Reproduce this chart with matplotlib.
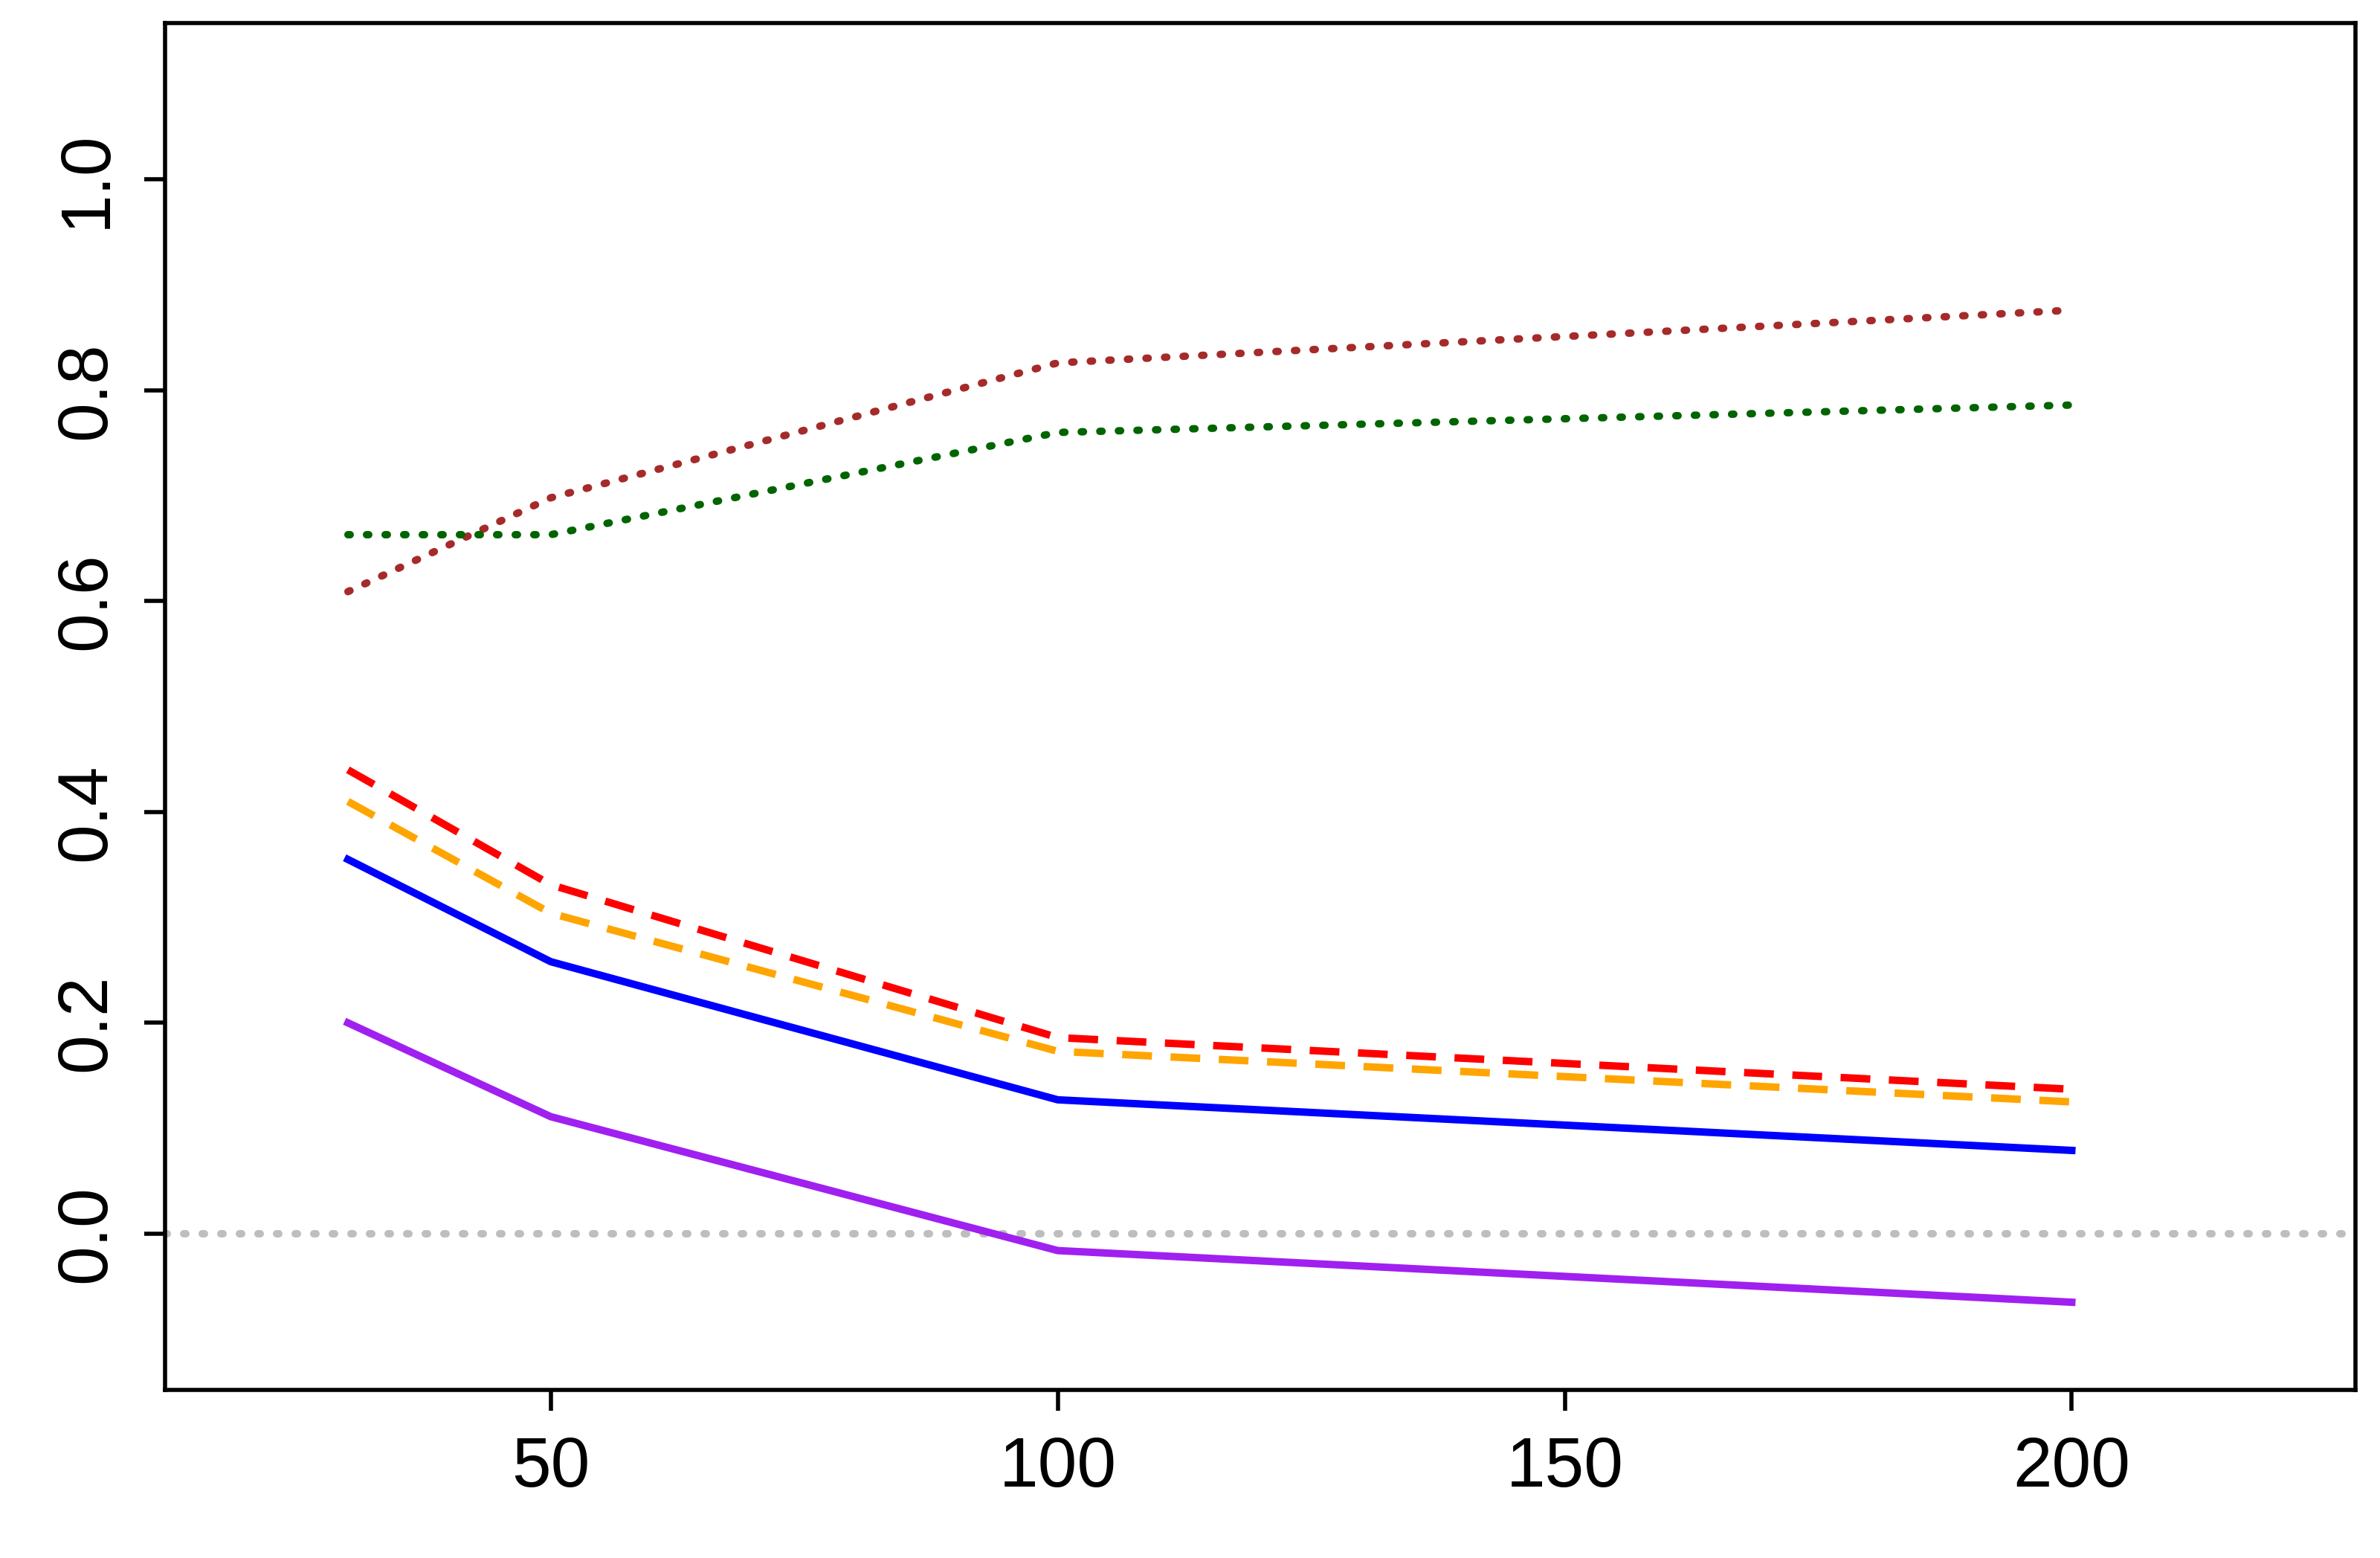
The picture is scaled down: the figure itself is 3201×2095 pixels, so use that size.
import matplotlib
matplotlib.use("Agg")
import matplotlib.pyplot as plt

plt.rcParams['font.family'] = ['Liberation Sans', 'DejaVu Sans']

x = [30, 50, 100, 200]
blue = [0.355, 0.258, 0.127, 0.079]
purple = [0.200, 0.111, -0.016, -0.065]
red = [0.440, 0.331, 0.186, 0.137]
orange = [0.410, 0.304, 0.173, 0.125]
brown = [0.609, 0.698, 0.826, 0.876]
green = [0.663, 0.663, 0.760, 0.786]
xticks = [50, 100, 150, 200]
yticks = [0.0, 0.2, 0.4, 0.6, 0.8, 1.0]

fig = plt.figure(figsize=(16.005, 10.475), dpi=200)
ax = fig.add_axes([0.0695, 0.108, 0.9203, 0.877])
lw = 3.6
ax.axhline(0, color='#BEBEBE', lw=lw, ls=(0, (0.3, 2.2)), dash_capstyle='round')
ax.plot(x, brown, color='#A52A2A', lw=lw, ls=(0, (0.3, 2.2)), dash_capstyle='round')
ax.plot(x, green, color='#006400', lw=lw, ls=(0, (0.3, 2.2)), dash_capstyle='round')
ax.plot(x, red, color='#FF0000', lw=lw, ls=(0, (4, 2.5)))
ax.plot(x, orange, color='#FFA500', lw=lw, ls=(0, (4, 2.5)))
ax.plot(x, blue, color='#0000FF', lw=lw)
ax.plot(x, purple, color='#A020F0', lw=lw)

ax.set_xlim(12, 228)
ax.set_ylim(-0.148, 1.148)
ax.set_xticks(xticks)
ax.set_xticklabels([str(v) for v in xticks])
ax.set_yticks(yticks)
ax.set_yticklabels([f"{v:.1f}" for v in yticks], rotation=90, va='center')
ax.tick_params(labelsize=34, width=2, length=10, direction='out', pad=12)
for s in ax.spines.values():
    s.set_linewidth(2)
fig.savefig("out.png", dpi=200)
